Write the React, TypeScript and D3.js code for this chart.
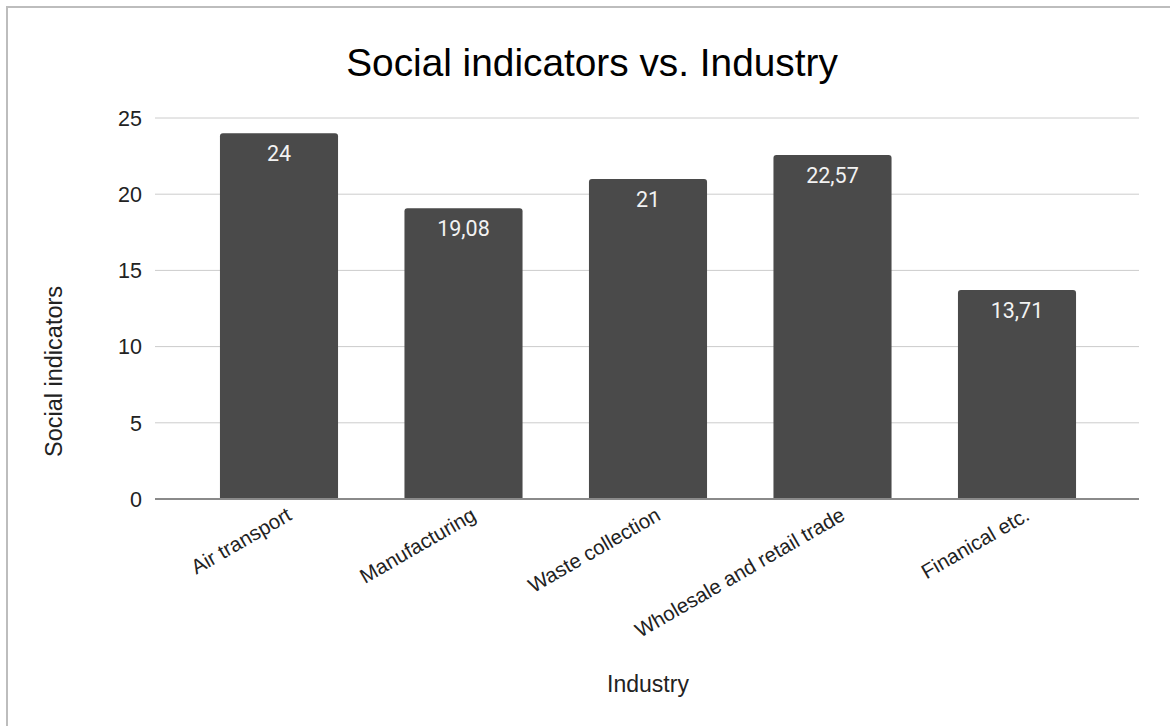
import React from "react";
import * as d3 from "d3";

const categories: string[] = [
  "Air transport",
  "Manufacturing",
  "Waste collection",
  "Wholesale and retail trade",
  "Finanical etc.",
];
const values: number[] = [24, 19.08, 21, 22.57, 13.71];
const valueLabels: string[] = ["24", "19,08", "21", "22,57", "13,71"];
const yTicks: number[] = [0, 5, 10, 15, 20, 25];

const W = 1170;
const H = 726;

export default function App() {
  const x = d3
    .scaleBand<string>()
    .domain(categories)
    .range([186.75, 1109.25])
    .paddingInner(0.36)
    .paddingOuter(0.18);
  const y = d3.scaleLinear().domain([0, 25]).range([499, 118]);
  const gridX1 = 155;
  const gridX2 = 1139;
  const arial = "'Liberation Sans', Arial, sans-serif";

  return (
    <svg
      width={W}
      height={H}
      style={{ position: "absolute", left: 0, top: 0, display: "block" }}
    >
      <rect x={0} y={0} width={W} height={H} fill="#fff" />
      <rect
        x={7}
        y={7}
        width={W + 20}
        height={H + 20}
        fill="none"
        stroke="#bdbdbd"
        strokeWidth={2}
      />
      <text
        x={592}
        y={76}
        textAnchor="middle"
        fontFamily={arial}
        fontSize={38.8}
        fill="#000"
      >
        Social indicators vs. Industry
      </text>
      {yTicks
        .filter((t) => t !== 0)
        .map((t) => (
          <line
            key={"g" + t}
            x1={gridX1}
            x2={gridX2}
            y1={y(t)}
            y2={y(t)}
            stroke="#cccccc"
            strokeWidth={1}
          />
        ))}
      {yTicks.map((t) => (
        <text
          key={"t" + t}
          x={142}
          y={y(t)}
          dy="0.36em"
          textAnchor="end"
          fontFamily={arial}
          fontSize={21.5}
          fill="#222"
        >
          {t}
        </text>
      ))}
      {categories.map((c, i) => {
        const bx = x(c) as number;
        const bw = x.bandwidth();
        const top = y(values[i]);
        const r = 3;
        const path = `M${bx},${y(0)} L${bx},${top + r} Q${bx},${top} ${bx + r},${top} L${bx + bw - r},${top} Q${bx + bw},${top} ${bx + bw},${top + r} L${bx + bw},${y(0)} Z`;
        return (
          <g key={c}>
            <path d={path} fill="#4a4a4a" />
            <text
              x={bx + bw / 2}
              y={top + 28}
              textAnchor="middle"
              fontFamily="Roboto, sans-serif"
              fontSize={21.5}
              fill="#f2f2f2"
            >
              {valueLabels[i]}
            </text>
          </g>
        );
      })}
      <line
        x1={gridX1}
        x2={gridX2}
        y1={y(0)}
        y2={y(0)}
        stroke="#8a8a8a"
        strokeWidth={2}
      />
      {categories.map((c) => {
        const cx = (x(c) as number) + x.bandwidth() / 2;
        return (
          <text
            key={"l" + c}
            transform={`translate(${cx + 14},${519}) rotate(-30)`}
            textAnchor="end"
            fontFamily={arial}
            fontSize={20.5}
            fill="#222"
          >
            {c}
          </text>
        );
      })}
      <text
        x={648}
        y={692}
        textAnchor="middle"
        fontFamily={arial}
        fontSize={23}
        fill="#222"
      >
        Industry
      </text>
      <text
        transform={`translate(62,371.5) rotate(-90)`}
        textAnchor="middle"
        fontFamily={arial}
        fontSize={23.5}
        fill="#222"
      >
        Social indicators
      </text>
    </svg>
  );
}
